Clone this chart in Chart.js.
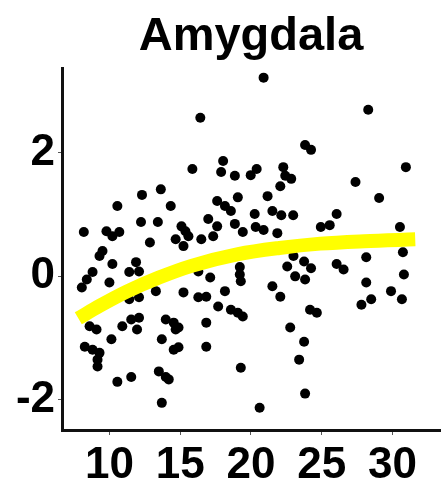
<!DOCTYPE html>
<html>
<head>
<meta charset="utf-8">
<script src="https://cdn.jsdelivr.net/npm/chart.js@4"></script>
<style>
  html, body { margin: 0; padding: 0; background: #fff; }
  #wrap { width: 445px; height: 490px; }
</style>
</head>
<body>
<div id="wrap"><canvas id="myChart"></canvas></div>
<script>
// Scatter points: age (x) and residual volume (y)
const ageValues = [
  20.89, 16.42, 28.28, 23.82, 24.24, 30.94, 27.38, 29.05, 15.86, 18.03,
  17.89, 18.86, 19.98, 20.40, 22.28, 22.42, 22.84, 22.07, 13.63, 12.30,
  10.56, 14.33, 12.23, 13.42, 8.19, 9.79, 10.70, 10.21, 12.86, 17.61,
  18.16, 18.58, 19.07, 21.17, 20.26, 21.51, 22.14, 22.98, 16.98, 17.61,
  17.33, 15.09, 14.68, 15.58, 15.23, 15.37, 18.86, 19.42, 20.33, 20.89,
  21.86, 26.05, 24.93, 25.56, 30.52, 16.49,
  23.00, 22.56, 23.75, 24.24, 23.12, 23.82,
  26.05, 26.54, 28.14, 30.73, 30.80, 28.14, 29.89, 30.66, 27.80, 28.49,
  24.17, 24.65, 23.75, 23.40, 23.82, 22.77, 21.51, 22.07, 19.21, 19.21,
  19.28, 16.28, 17.12, 15.23, 16.28, 16.84, 18.16, 17.68, 18.58, 19.07,
  19.42, 16.84, 14.88, 14.88, 16.84, 19.28, 20.61,
  9.51, 9.30, 10.21, 11.88, 12.09, 8.81, 8.40, 8.05, 10.00, 11.40,
  13.28, 11.40, 12.09, 8.60, 9.09, 10.91, 11.54, 12.09, 11.95, 13.98,
  14.54, 14.68, 10.14, 13.70, 8.26, 8.81, 9.30, 9.16, 9.16, 14.54,
  10.56, 11.54, 13.49, 13.98, 14.19, 13.70
];
const volumeValues = [
  3.22, 2.57, 2.70, 2.13, 2.05, 1.77, 1.53, 1.27, 1.74, 1.87,
  1.69, 1.63, 1.64, 1.74, 1.77, 1.63, 1.58, 1.46, 1.41, 1.32,
  1.14, 1.14, 0.88, 0.88, 0.72, 0.73, 0.72, 0.65, 0.55, 1.22,
  1.14, 1.06, 1.28, 1.30, 1.01, 1.06, 0.99, 0.99, 0.93, 0.81,
  0.65, 0.81, 0.60, 0.65, 0.49, 0.73, 0.85, 0.72, 0.80, 0.75,
  0.70, 1.01, 0.80, 0.83, 0.80, 0.60,
  0.33, 0.16, 0.24, 0.13, 0.00, -0.05,
  0.20, 0.11, 0.31, 0.39, 0.03, -0.10, -0.24, -0.37, -0.46, -0.37,
  -0.54, -0.59, -1.06, -1.35, -1.90, -0.83, -0.16, -0.33, 0.15, 0.03,
  -0.08, 0.08, -0.02, -0.26, -0.34, -0.33, -0.24, -0.49, -0.54, -0.59,
  -0.65, -0.75, -0.83, -1.15, -1.14, -1.48, -2.13,
  0.41, 0.33, 0.20, 0.23, 0.08, 0.07, -0.05, -0.18, -0.10, 0.07,
  -0.24, -0.37, -0.34, -0.81, -0.86, -0.81, -0.70, -0.67, -0.86, -0.70,
  -0.75, -0.86, -1.02, -1.02, -1.14, -1.19, -1.24, -1.35, -1.46, -1.19,
  -1.71, -1.63, -1.54, -1.63, -1.67, -2.05
];

// Fitted curve (yellow)
const fitAge = [7.8, 9.3, 11.2, 13.5, 15.8, 19.1, 22.0, 24.9, 28.0, 31.6];
const fitVolume = [-0.68, -0.48, -0.25, -0.02, 0.17, 0.36, 0.46, 0.53, 0.57, 0.60];

const xTicks = [10, 15, 20, 25, 30];
const yTicks = [-2, 0, 2];

const points = ageValues.map((a, i) => ({ x: a, y: volumeValues[i] }));
const fitLine = fitAge.map((a, i) => ({ x: a, y: fitVolume[i] }));

const ctx = document.getElementById('myChart').getContext('2d');

const myChart = new Chart(ctx, {
  type: 'scatter',
  data: {
    datasets: [
      {
        type: 'line',
        data: fitLine,
        borderColor: '#ffff00',
        borderWidth: 14,
        pointRadius: 0,
        cubicInterpolationMode: 'monotone',
        fill: false,
        order: 0
      },
      {
        data: points,
        backgroundColor: '#000',
        borderColor: '#000',
        pointRadius: 5,
        borderWidth: 0,
        order: 1
      }
    ]
  },
  options: {
    responsive: true,
    maintainAspectRatio: false,
    animation: false,
    layout: { padding: 0 },
    plugins: {
      legend: { display: false },
      tooltip: { enabled: false },
      title: {
        display: true,
        text: 'Amygdala',
        fullSize: false,
        color: '#000',
        font: { family: 'Liberation Sans, Arial, sans-serif', size: 47, weight: 'bold', lineHeight: 1.2 },
        padding: { top: 9, bottom: 3 }
      }
    },
    scales: {
      x: {
        type: 'linear',
        min: 6.65,
        max: 33.35,
        afterBuildTicks: (scale) => { scale.ticks = xTicks.map(v => ({ value: v })); },
        afterFit: (scale) => { scale.height = 60; },
        ticks: {
          color: '#000',
          padding: 4,
          font: { family: 'Liberation Sans, Arial, sans-serif', size: 44, weight: 'bold' }
        },
        grid: { display: true, drawOnChartArea: false, color: '#555', tickLength: 5, tickWidth: 1 },
        border: { display: true, color: '#111', width: 3 }
      },
      y: {
        type: 'linear',
        min: -2.49,
        max: 3.37,
        afterBuildTicks: (scale) => { scale.ticks = yTicks.map(v => ({ value: v })); },
        afterFit: (scale) => { scale.width = 62; },
        ticks: {
          color: '#000',
          padding: 3,
          font: { family: 'Liberation Sans, Arial, sans-serif', size: 44, weight: 'bold' }
        },
        grid: { display: true, drawOnChartArea: false, color: '#555', tickLength: 4, tickWidth: 1 },
        border: { display: true, color: '#111', width: 3 }
      }
    }
  }
});
</script>
</body>
</html>
